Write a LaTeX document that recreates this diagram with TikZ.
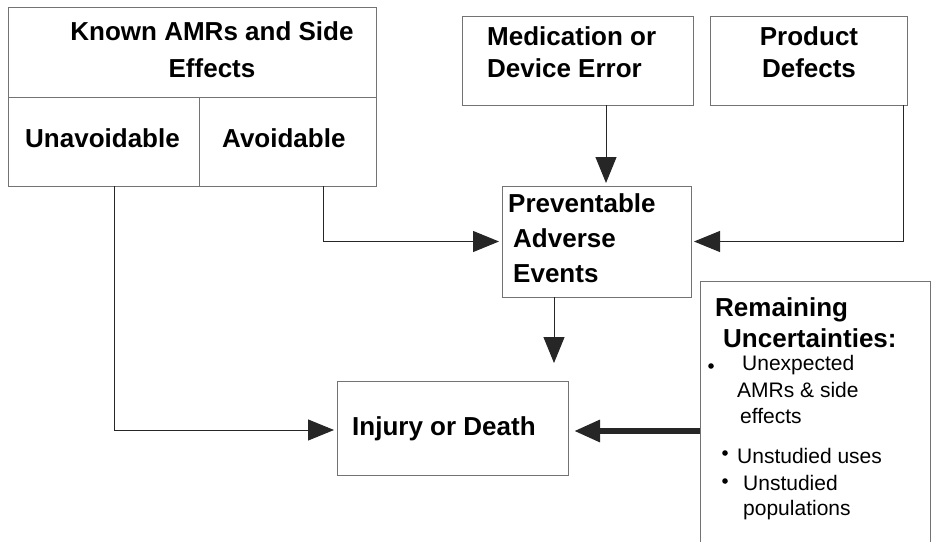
\documentclass[tikz,border=0pt]{standalone}
\usepackage{fontspec}
\setmainfont{Liberation Sans}
\usetikzlibrary{arrows.meta}
\tikzset{
  box/.style={draw=black!55, line width=1pt, anchor=north west, inner sep=0pt, outer sep=0pt},
  head/.style={inner sep=0pt, font=\bfseries\fontsize{26}{32}\selectfont},
  item/.style={inner sep=0pt, anchor=base west, font=\fontsize{21}{25}\selectfont},
  flow/.style={draw=black!85, line width=1pt, -{Triangle[length=26pt,width=21pt]}, shorten >=3pt},
}
\begin{document}
\begin{tikzpicture}[x=1pt,y=-1pt]
 \useasboundingbox (0,0) rectangle (934,541);
 % boxes
 \node[box, minimum width=368pt, minimum height=90pt] (known) at (8,7) {};
 \node[box, minimum width=191pt, minimum height=89pt] (unavoid) at (8,97) {};
 \node[box, minimum width=177pt, minimum height=89pt] (avoid) at (199,97) {};
 \node[box, minimum width=231pt, minimum height=89pt] (med) at (462,16) {};
 \node[box, minimum width=197pt, minimum height=89pt] (prod) at (710,16) {};
 \node[box, minimum width=189pt, minimum height=111pt] (prev) at (502,186) {};
 \node[box, minimum width=231pt, minimum height=94pt] (injury) at (337,381) {};
 \node[anchor=north west, inner sep=0pt, minimum width=230pt, minimum height=270pt] (remain) at (700,281) {};
 \draw[draw=black!55, line width=1pt] (remain.south west) -- (remain.north west) -- (remain.north east) -- (remain.south east);
 % texts
 \node[head, align=center, anchor=north, font=\bfseries\fontsize{26}{37}\selectfont] (knowntxt) at (212,21) {Known AMRs and Side\\Effects};
 \node[head, anchor=base west] (unavtxt) at (25,147) {Unavoidable};
 \node[head, anchor=base west] (avtxt) at (222,147) {Avoidable};
 \node[head, align=left, anchor=north west] (medtxt) at (487,26) {Medication or\\Device Error};
 \node[head, align=center, anchor=north] (prodtxt) at (809,26) {Product\\Defects};
 \node[head, align=left, anchor=north west, font=\bfseries\fontsize{26}{35}\selectfont] (prevtxt) at (508,193) {Preventable\\\hspace*{5pt}Adverse\\\hspace*{5pt}Events};
 \node[head, anchor=base west] (injtxt) at (352,435) {Injury or Death};
 \node[head, anchor=base west] (remtxt) at (715,316) {Remaining};
 \node[head, anchor=base west] (unctxt) at (723,347) {Uncertainties:};
 \node[item] (unexp) at (742,370) {Unexpected};
 \node[item] (amrs) at (737,397) {AMRs \& side};
 \node[item] (eff) at (740,423) {effects};
 \node[item] (uses) at (737,463) {Unstudied uses};
 \node[item] (unst) at (743,490) {Unstudied};
 \node[item] (pop) at (743,515) {populations};
 \fill (711,366) circle (2.8pt);
 \fill (725,453) circle (2.8pt);
 \fill (725,481) circle (2.8pt);
 % connectors
 \coordinate (unout) at ([xshift=10.5pt]unavoid.south);
 \coordinate (avout) at ([xshift=35.5pt]avoid.south);
 \coordinate (medout) at ([xshift=28.5pt]med.south);
 \coordinate (prodout) at ([xshift=-4pt]prod.south east);
 \coordinate (prevout) at ([xshift=-42.5pt]prev.south);
 \coordinate (injin) at ([yshift=-3pt]injury.east);
 \draw[flow] (unout) |- ([yshift=-2pt]injury.west);
 \draw[flow] (avout) |- (prev.west);
 \draw[flow] (medout) -- (medout |- prev.north);
 \draw[flow] (prodout) |- (prev.east);
 \draw[flow, shorten >=18pt] (prevout) -- (prevout |- injury.north);
 \draw[flow, line width=6pt, shorten >=6pt] (remain.north west |- injin) -- (injin);
\end{tikzpicture}
\end{document}
